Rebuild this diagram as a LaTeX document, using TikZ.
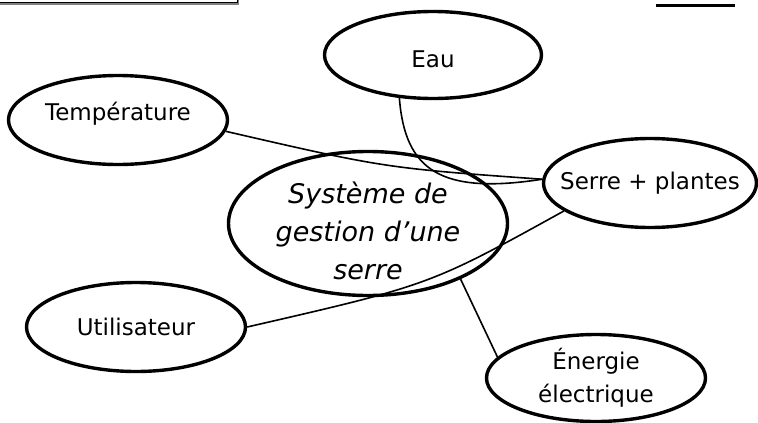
\documentclass[tikz,border=0pt]{standalone}
\usepackage{fontspec}
\setmainfont{DejaVu Sans}
\usetikzlibrary{shapes.geometric}
\begin{document}
\begin{tikzpicture}[x=1pt,y=-1pt,
  bubble/.style={ellipse, draw, line width=3.4pt, inner sep=0pt},
  txt/.style={font=\fontsize{23}{33}\selectfont, align=center, inner sep=0pt},
  link/.style={line width=1.6pt}]
\useasboundingbox (0,0) rectangle (758,423);
% cropped frame and underline at the top
\draw[gray, line width=2pt] (-5,-20) rectangle (238,3.5);
\draw[black, line width=0.9pt] (-5,-20) rectangle (237.5,2.5);
\draw[line width=3pt] (656,5.5) -- (735,5.5);
% nodes
\node[bubble, minimum width=217pt, minimum height=87pt,
  label={[txt, yshift=-4pt]center:Eau}] (eau) at (433,55) {};
\node[bubble, minimum width=219pt, minimum height=89pt,
  label={[txt, yshift=6pt]center:Température}] (temp) at (118,120) {};
\node[bubble, minimum width=213pt, minimum height=89pt,
  label={[txt]center:Serre + plantes}] (serre) at (650,183) {};
\node[bubble, minimum width=279pt, minimum height=144pt,
  label={[txt, font=\itshape\fontsize{27}{38}\selectfont, yshift=-7pt]center:Système de\\gestion d’une\\serre}] (sys) at (368,223.5) {};
\node[bubble, minimum width=219pt, minimum height=89pt,
  label={[txt]center:Utilisateur}] (util) at (136,327) {};
\node[bubble, minimum width=219pt, minimum height=87pt,
  label={[txt]center:Énergie\\électrique}] (ener) at (596,378) {};
% connectors
\draw[link] (temp.-6) .. controls (385,168) .. (serre.178);
\draw[link] (eau.-128) .. controls (405,170) and (440,195) .. (serre.178);
\draw[link] (util.east) .. controls (430,285) .. (serre.-162);
\draw[link] (sys.-31) -- (ener.168);
\end{tikzpicture}
\end{document}
